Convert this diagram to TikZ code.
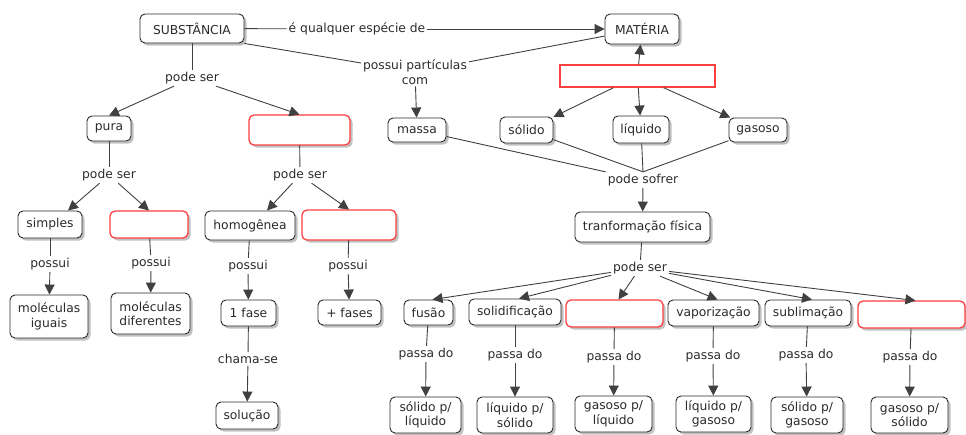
\documentclass[tikz,border=0pt]{standalone}
\usepackage{fontspec}
\setmainfont{DejaVu Sans}
\usetikzlibrary{arrows.meta,shadows}
\definecolor{ink}{HTML}{2B2B2B}
\definecolor{edge}{HTML}{2A2A2A}
\definecolor{alert}{HTML}{FF4040}
\tikzset{
  concept/.style={draw=edge, line width=0.9pt, rounded corners=5pt, fill=white,
    text=ink, align=center, inner sep=2pt,
    drop shadow={shadow xshift=2.5pt, shadow yshift=-2.5pt, fill=black!30, opacity=0.8},
    font=\fontsize{12.3}{14.5}\selectfont},
  blank/.style={concept, draw=none,
    postaction={draw=alert, line width=1.3pt}},
  phrase/.style={text=ink, align=center, inner sep=2pt,
    font=\fontsize{12.3}{14.5}\selectfont},
  conn/.style={draw=black!75, line width=0.9pt},
  arr/.style={conn, -{Triangle[length=10pt,width=10pt]}},
  sz/.style 2 args={minimum width=#1pt, minimum height=#2pt}
}
\begin{document}
\begin{tikzpicture}[x=1pt,y=-1pt]
\useasboundingbox (0,0) rectangle (966,434);

% ---- top: substance and matter
\node[concept, sz={104}{29}] (sub) at (192,28.5) {SUBSTÂNCIA};
\node[concept, sz={74}{30}] (mat) at (642,29) {MATÉRIA};
\node[phrase] (lqual) at (357,29) {é qualquer espécie de};
\node[phrase] (lposs) at (415,72) {possui partículas\\com};
\node[draw=alert, line width=1.3pt, sz={155}{22}] (states) at (637.5,76) {};

\node[concept, sz={58}{24}] (massa) at (417,130) {massa};
\node[concept, sz={53}{26}] (solido) at (526.5,130) {sólido};
\node[concept, sz={56}{27}] (liquido) at (641,129.5) {líquido};
\node[concept, sz={58}{24}] (gasoso) at (758,130) {gasoso};
\node[phrase] (lsofrer) at (643,180) {pode sofrer};
\node[concept, sz={135}{30}] (transf) at (642.5,227) {tranformação física};
\node[phrase] (lpsD) at (640,268) {pode ser};

\draw[conn] (sub) -- (lqual);
\draw[arr] (lqual) -- (mat);
\draw[conn] (sub.south east) -- (lposs);
\draw[conn] (lposs) -- (mat);
\draw[arr] (lposs) -- (massa);
\draw[arr] (states) -- (mat);
\draw[arr] (states) -- (solido);
\draw[arr] (states) -- (liquido);
\draw[arr] (states) -- (gasoso);
\draw[conn] (massa) -- (lsofrer.north west);
\draw[conn] (solido) -- (lsofrer.north);
\draw[conn] (liquido) -- (lsofrer.north);
\draw[conn] (gasoso) -- (lsofrer.north);
\draw[arr] (lsofrer) -- (transf);
\draw[conn] (transf) -- (lpsD);

% ---- physical transformations
\node[concept, sz={49}{25}] (fusao) at (428.5,312.5) {fusão};
\node[concept, sz={92}{26}] (solidif) at (515,312) {solidificação};
\node[blank, sz={97}{27}] (trC) at (614.5,313.5) {};
\node[concept, sz={91}{26}] (vapor) at (713.5,313) {vaporização};
\node[concept, sz={86}{26}] (sublim) at (808,313) {sublimação};
\node[blank, sz={107}{27}] (trF) at (911.5,314.5) {};

\node[concept, sz={71}{36}] (pA) at (425.5,415) {sólido p/\\líquido};
\node[concept, sz={76}{36}] (pB) at (515,415) {líquido p/\\sólido};
\node[concept, sz={77}{36}] (pC) at (613.5,414) {gasoso p/\\líquido};
\node[concept, sz={75}{36}] (pD) at (713.5,414) {líquido p/\\gasoso};
\node[concept, sz={72}{36}] (pE) at (807,415) {sólido p/\\gasoso};
\node[concept, sz={77}{36}] (pF) at (909.5,415) {gasoso p/\\sólido};

\foreach \t/\p/\x/\y in {fusao/pA/426/354, solidif/pB/515/355, trC/pC/614/357,
                         vapor/pD/713/356, sublim/pE/806/355, trF/pF/910/357}{
  \node[phrase] (pp\t) at (\x,\y) {passa do};
  \draw[conn] (\t) -- (pp\t);
  \draw[arr] (pp\t) -- (\p);
}
\foreach \t in {fusao, solidif, trC, vapor, sublim, trF}
  \draw[arr] (lpsD) -- ([xshift=4pt]\t.north);

% ---- left: kinds of substance
\node[phrase] (lpsA) at (192,78) {pode ser};
\node[concept, sz={44}{25}] (pura) at (109,128.5) {pura};
\node[blank, sz={101}{30}] (mist) at (299.5,130) {};
\node[phrase] (lpsB) at (109,175) {pode ser};
\node[phrase] (lpsC) at (300,175) {pode ser};
\node[concept, sz={64}{27}] (simples) at (50,224.5) {simples};
\node[blank, sz={78}{27}] (comp) at (149,224.5) {};
\node[concept, sz={90}{29}] (homog) at (250,225.5) {homogênea};
\node[blank, sz={94}{30}] (heter) at (349,225) {};

\node[phrase] (lpo1) at (50,264) {possui};
\node[phrase] (lpo2) at (151,263) {possui};
\node[phrase] (lpo3) at (248,266) {possui};
\node[phrase] (lpo4) at (348,266) {possui};

\node[concept, sz={78}{43}] (molig) at (49,316.5) {moléculas\\iguais};
\node[concept, sz={79}{41}] (moldif) at (150.5,313.5) {moléculas\\diferentes};
\node[concept, sz={55}{26}] (fase1) at (248.5,313) {1 fase};
\node[concept, sz={63}{25}] (fases) at (349.5,312.5) {+ fases};
\node[phrase] (lcham) at (248,359) {chama-se};
\node[concept, sz={62}{27}] (solucao) at (247,415.5) {solução};

\draw[conn] (sub) -- (lpsA);
\draw[arr] (lpsA) -- (pura.north);
\draw[arr] (lpsA) -- (mist.north);
\draw[conn] (pura) -- (lpsB);
\draw[arr] (lpsB) -- ([xshift=18pt]simples.north);
\draw[arr] (lpsB) -- (comp.north);
\draw[conn] (mist) -- (lpsC);
\draw[arr] (lpsC) -- ([xshift=17pt]homog.north);
\draw[arr] (lpsC) -- (heter.north);

\draw[conn] (simples) -- (lpo1);
\draw[arr] (lpo1) -- (molig);
\draw[conn] (comp) -- (lpo2);
\draw[arr] (lpo2) -- (moldif);
\draw[conn] (homog) -- (lpo3);
\draw[arr] (lpo3) -- (fase1);
\draw[conn] (heter) -- (lpo4);
\draw[arr] (lpo4) -- (fases);
\draw[conn] (fase1) -- (lcham);
\draw[arr] (lcham) -- (solucao);
\end{tikzpicture}
\end{document}
